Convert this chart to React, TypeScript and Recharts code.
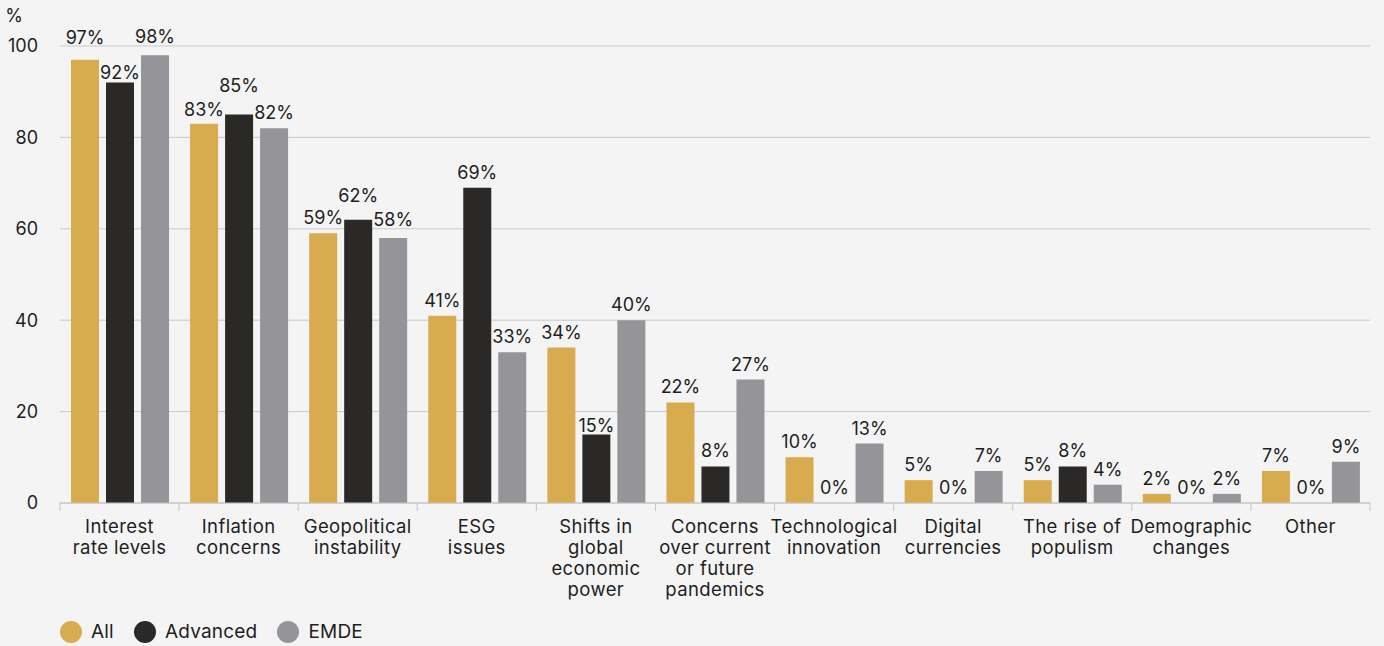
import React from 'react'
import {
  BarChart,
  Bar,
  XAxis,
  YAxis,
  CartesianGrid,
  Legend,
  LabelList,
} from 'recharts'

const categories = [
  'Interest\nrate levels',
  'Inflation\nconcerns',
  'Geopolitical\ninstability',
  'ESG\nissues',
  'Shifts in\nglobal\neconomic\npower',
  'Concerns\nover current\nor future\npandemics',
  'Technological\ninnovation',
  'Digital\ncurrencies',
  'The rise of\npopulism',
  'Demographic\nchanges',
  'Other',
]

const allValues = [97, 83, 59, 41, 34, 22, 10, 5, 5, 2, 7]
const advancedValues = [92, 85, 62, 69, 15, 8, 0, 0, 8, 0, 0]
const emdeValues = [98, 82, 58, 33, 40, 27, 13, 7, 4, 2, 9]

const yTicks = [0, 20, 40, 60, 80, 100]

const series = [
  { key: 'all', name: 'All', color: '#d8ab4f' },
  { key: 'advanced', name: 'Advanced', color: '#2b2927' },
  { key: 'emde', name: 'EMDE', color: '#959498' },
]

// extra lift (px) for value labels that are nudged to avoid crowding
const labelLift: Record<string, Record<number, number>> = {
  all: { 0: 7, 1: -1 },
  advanced: { 0: -5, 1: 14, 2: 9, 4: -7 },
  emde: { 0: 3, 2: 3 },
}

const data = categories.map((name, i) => ({
  name,
  all: allValues[i],
  advanced: advancedValues[i],
  emde: emdeValues[i],
}))

const FONT = 'Inter, "DejaVu Sans", sans-serif'
const TEXT = '#1e1e1e'
const AXIS = '#c4c4c4'
const TICK_SIZE = 6
const TICK_MARGIN = 2

// multi-line category label plus the short separators at the band edges
const CategoryTick = ({ x, y, payload, index, visibleTicksCount }: any) => {
  const lines = String(payload.value).split('\n')
  const half = payload.offset ?? 0
  const top = y - TICK_SIZE - TICK_MARGIN
  const isLast = index === visibleTicksCount - 1
  return (
    <g>
      <line x1={x - half} x2={x - half} y1={top} y2={top + 8} stroke={AXIS} />
      {isLast && <line x1={x + half} x2={x + half} y1={top} y2={top + 8} stroke={AXIS} />}
      <text
        x={x}
        y={y}
        textAnchor="middle"
        fontSize={18.5}
        letterSpacing={0.4}
        fill={TEXT}
        fontFamily={FONT}
      >
        {lines.map((line, i) => (
          <tspan key={i} x={x} dy={i === 0 ? 22 : 21}>
            {line}
          </tspan>
        ))}
      </text>
    </g>
  )
}

const makeValueLabel = (seriesKey: string) => (props: any) => {
  const { x, y, width, value, index } = props
  const lift = labelLift[seriesKey][index] ?? 0
  return (
    <text
      x={x + width / 2}
      y={y - 9 - lift}
      textAnchor="middle"
      fontSize={18}
      fill={TEXT}
      fontFamily={FONT}
    >
      {`${value}%`}
    </text>
  )
}

const LegendContent = () => (
  <div style={{ display: 'flex', alignItems: 'center', fontFamily: FONT, fontSize: 19, color: TEXT }}>
    {series.map((s) => (
      <div key={s.key} style={{ display: 'flex', alignItems: 'center', marginRight: 20 }}>
        <span
          style={{
            width: 22,
            height: 22,
            borderRadius: '50%',
            background: s.color,
            display: 'inline-block',
            marginRight: 9,
          }}
        />
        <span style={{ letterSpacing: 0.2 }}>{s.name}</span>
      </div>
    ))}
  </div>
)

export default function App() {
  return (
    <div
      style={{
        position: 'absolute',
        left: 0,
        top: 0,
        width: 1384,
        height: 646,
        background: '#f4f4f4',
      }}
    >
      <BarChart
        width={1384}
        height={646}
        data={data}
        margin={{ top: 46, right: 14, left: 0, bottom: 0 }}
        barCategoryGap={11}
        barGap={7}
      >
        <CartesianGrid vertical={false} stroke="#c9c9c9" />
        <YAxis
          domain={[0, 100]}
          ticks={yTicks}
          width={60}
          axisLine={false}
          tickLine={false}
          tickMargin={16}
          tick={{ fontSize: 18, fill: TEXT, fontFamily: FONT }}
          label={{
            value: '%',
            position: 'top',
            dx: -16,
            dy: -19,
            fontSize: 18,
            fill: TEXT,
            fontFamily: FONT,
          }}
        />
        <XAxis
          dataKey="name"
          height={143}
          interval={0}
          tickSize={TICK_SIZE}
          tickMargin={TICK_MARGIN}
          axisLine={{ stroke: AXIS }}
          tickLine={false}
          tick={<CategoryTick />}
        />
        <Legend
          layout="horizontal"
          verticalAlign="middle"
          align="center"
          content={<LegendContent />}
          wrapperStyle={{ position: 'absolute', left: 60, top: 620, width: 'auto' }}
        />
        {series.map((s) => (
          <Bar
            key={s.key}
            dataKey={s.key}
            name={s.name}
            fill={s.color}
            minPointSize={0.001}
            isAnimationActive={false}
          >
            <LabelList dataKey={s.key} content={makeValueLabel(s.key)} />
          </Bar>
        ))}
      </BarChart>
    </div>
  )
}
